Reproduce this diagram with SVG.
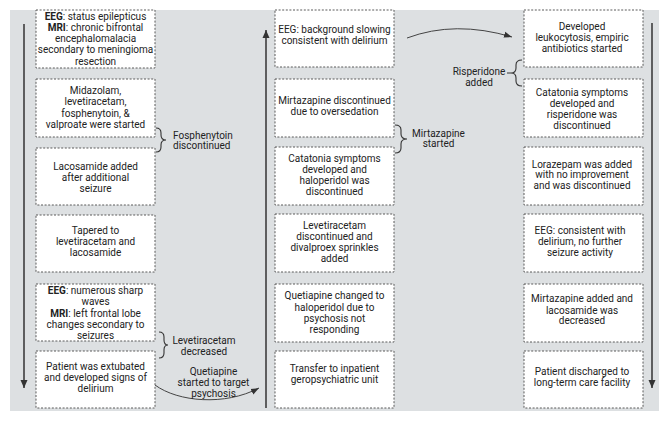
<svg xmlns="http://www.w3.org/2000/svg" width="669" height="422" viewBox="0 0 669 422">
<style>
.box{fill:#ffffff;stroke:#5a5a5a;stroke-width:1;stroke-dasharray:2 1.6}
.t{font-family:Roboto,"Liberation Sans",sans-serif;font-size:10px;fill:#222;text-anchor:middle}
.l{font-family:Roboto,"Liberation Sans",sans-serif;font-size:10px;fill:#222}
.b{font-weight:bold}
.axis{stroke:#333;stroke-width:1.5;fill:none}
.brace{stroke:#333;stroke-width:1.1;fill:none}
.curve{stroke:#444;stroke-width:1;fill:none}
</style>
<defs>
<marker id="ah" markerUnits="userSpaceOnUse" markerWidth="10" markerHeight="10" refX="8" refY="5" orient="auto">
<path d="M0,1.5 L8,5 L0,8.5 Z" fill="#333"/>
</marker>
<marker id="ahs" markerUnits="userSpaceOnUse" markerWidth="10" markerHeight="10" refX="8" refY="5" orient="auto">
<path d="M0,2 L8,5 L0,8 Z" fill="#333"/>
</marker>
</defs>
<rect x="10" y="10" width="649" height="401" fill="#dde0e2"/>

<g id="connectors">
<line class="axis" x1="24" y1="24" x2="24" y2="388" marker-end="url(#ah)"/>
<line class="axis" x1="266" y1="408" x2="266" y2="30" marker-end="url(#ah)"/>
<line class="axis" x1="652" y1="23" x2="652" y2="388" marker-end="url(#ah)"/>
<path class="curve" d="M407,38 Q455,20 512,37" marker-end="url(#ahs)"/>
<path class="curve" d="M155,385 C178,402 225,406 259,388" marker-end="url(#ahs)"/>
<path class="brace" d="M156,128 Q161,128 161,133 L161,135 Q161,140 166,140 Q161,140 161,145 L161,147 Q161,152 156,152"/>
<path class="brace" d="M159,332 Q164,332 164,337 L164,340 Q164,345 168,345 Q164,345 164,350 L164,353 Q164,358 159,358"/>
<path class="brace" d="M395,125 Q401,125 401,130 L401,134 Q401,139 407,139 Q401,139 401,144 L401,148 Q401,153 395,153"/>
<path class="brace" d="M522,60 Q516,60 516,65 L516,68 Q516,73 511,73 L507,73 M511,73 Q516,73 516,78 L516,81 Q516,86 522,86"/>
</g>

<g id="labels">
<text class="l" x="173" y="138.5">Fosphenytoin</text>
<text class="l" x="173" y="149">discontinued</text>
<text class="t" x="204" y="343.5">Levetiracetam</text>
<text class="t" x="204" y="354.5">decreased</text>
<text class="t" x="438.5" y="136.5">Mirtazapine</text>
<text class="t" x="438.5" y="147">started</text>
<text class="t" x="479" y="75">Risperidone</text>
<text class="t" x="479" y="85.5">added</text>
<text class="t" x="213.5" y="374.5">Quetiapine</text>
<text class="t" x="213.5" y="386">started to target</text>
<text class="t" x="213.5" y="397">psychosis</text>
</g>

<g id="c1b1"><rect class="box" x="36" y="10" width="119" height="58"/>
<text class="t" x="95.5" y="19.5"><tspan class="b">EEG</tspan>: status epilepticus</text>
<text class="t" x="95.5" y="30.8"><tspan class="b">MRI</tspan>: chronic bifrontal</text>
<text class="t" x="95.5" y="42">encephalomalacia</text>
<text class="t" x="95.5" y="53.3">secondary to meningioma</text>
<text class="t" x="95.5" y="64.5">resection</text></g>
<g id="c1b2"><rect class="box" x="36" y="79" width="119" height="58"/>
<text class="t" x="95.5" y="94">Midazolam,</text>
<text class="t" x="95.5" y="105.3">levetiracetam,</text>
<text class="t" x="95.5" y="116.6">fosphenytoin, &amp;</text>
<text class="t" x="95.5" y="128">valproate were started</text></g>
<g id="c1b3"><rect class="box" x="36" y="148" width="119" height="57"/>
<text class="t" x="95.5" y="169.5">Lacosamide added</text>
<text class="t" x="95.5" y="180.8">after additional</text>
<text class="t" x="95.5" y="192">seizure</text></g>
<g id="c1b4"><rect class="box" x="36" y="215" width="119" height="57"/>
<text class="t" x="95.5" y="234">Tapered to</text>
<text class="t" x="95.5" y="245">levetiracetam and</text>
<text class="t" x="95.5" y="256">lacosamide</text></g>
<g id="c1b5"><rect class="box" x="36" y="284" width="119" height="57"/>
<text class="t" x="95.5" y="293.5"><tspan class="b">EEG</tspan>: numerous sharp</text>
<text class="t" x="95.5" y="305">waves</text>
<text class="t" x="95.5" y="316.5"><tspan class="b">MRI</tspan>: left frontal lobe</text>
<text class="t" x="95.5" y="327.5">changes secondary to</text>
<text class="t" x="95.5" y="339">seizures</text></g>
<g id="c1b6"><rect class="box" x="36" y="351" width="119" height="57"/>
<text class="t" x="95.5" y="369.5">Patient was extubated</text>
<text class="t" x="95.5" y="380.8">and developed signs of</text>
<text class="t" x="95.5" y="392">delirium</text></g>

<g id="c2b1"><rect class="box" x="275" y="10" width="119" height="57"/>
<text class="t" x="334.5" y="32.5">EEG: background slowing</text>
<text class="t" x="334.5" y="43.5">consistent with delirium</text></g>
<g id="c2b2"><rect class="box" x="275" y="79" width="119" height="58"/>
<text class="t" x="334.5" y="104">Mirtazapine discontinued</text>
<text class="t" x="334.5" y="115">due to oversedation</text></g>
<g id="c2b3"><rect class="box" x="275" y="147" width="119" height="58"/>
<text class="t" x="334.5" y="162">Catatonia symptoms</text>
<text class="t" x="334.5" y="173">developed and</text>
<text class="t" x="334.5" y="184">haloperidol was</text>
<text class="t" x="334.5" y="195">discontinued</text></g>
<g id="c2b4"><rect class="box" x="275" y="214" width="119" height="58"/>
<text class="t" x="334.5" y="229">Levetiracetam</text>
<text class="t" x="334.5" y="240">discontinued and</text>
<text class="t" x="334.5" y="251">divalproex sprinkles</text>
<text class="t" x="334.5" y="262">added</text></g>
<g id="c2b5"><rect class="box" x="275" y="284" width="119" height="58"/>
<text class="t" x="334.5" y="299">Quetiapine changed to</text>
<text class="t" x="334.5" y="310.5">haloperidol due to</text>
<text class="t" x="334.5" y="321.5">psychosis not</text>
<text class="t" x="334.5" y="332.5">responding</text></g>
<g id="c2b6"><rect class="box" x="275" y="351" width="119" height="57"/>
<text class="t" x="334.5" y="372">Transfer to inpatient</text>
<text class="t" x="334.5" y="383">geropsychiatric unit</text></g>

<g id="c3b1"><rect class="box" x="524" y="10" width="119" height="57"/>
<text class="t" x="582" y="29.5">Developed</text>
<text class="t" x="582" y="41">leukocytosis, empiric</text>
<text class="t" x="582" y="52.3">antibiotics started</text></g>
<g id="c3b2"><rect class="box" x="524" y="79" width="119" height="58"/>
<text class="t" x="582" y="96">Catatonia symptoms</text>
<text class="t" x="582" y="107">developed and</text>
<text class="t" x="582" y="118">risperidone was</text>
<text class="t" x="582" y="129">discontinued</text></g>
<g id="c3b3"><rect class="box" x="524" y="147" width="119" height="58"/>
<text class="t" x="582" y="167.5">Lorazepam was added</text>
<text class="t" x="582" y="178">with no improvement</text>
<text class="t" x="582" y="188.5">and was discontinued</text></g>
<g id="c3b4"><rect class="box" x="524" y="214" width="119" height="58"/>
<text class="t" x="580" y="234">EEG: consistent with</text>
<text class="t" x="580" y="244.5">delirium, no further</text>
<text class="t" x="580" y="256">seizure activity</text></g>
<g id="c3b5"><rect class="box" x="524" y="284" width="119" height="58"/>
<text class="t" x="582" y="302">Mirtazapine added and</text>
<text class="t" x="582" y="313.5">lacosamide was</text>
<text class="t" x="582" y="324">decreased</text></g>
<g id="c3b6"><rect class="box" x="524" y="351" width="119" height="57"/>
<text class="t" x="582" y="375">Patient discharged to</text>
<text class="t" x="582" y="385.5">long-term care facility</text></g>
</svg>
